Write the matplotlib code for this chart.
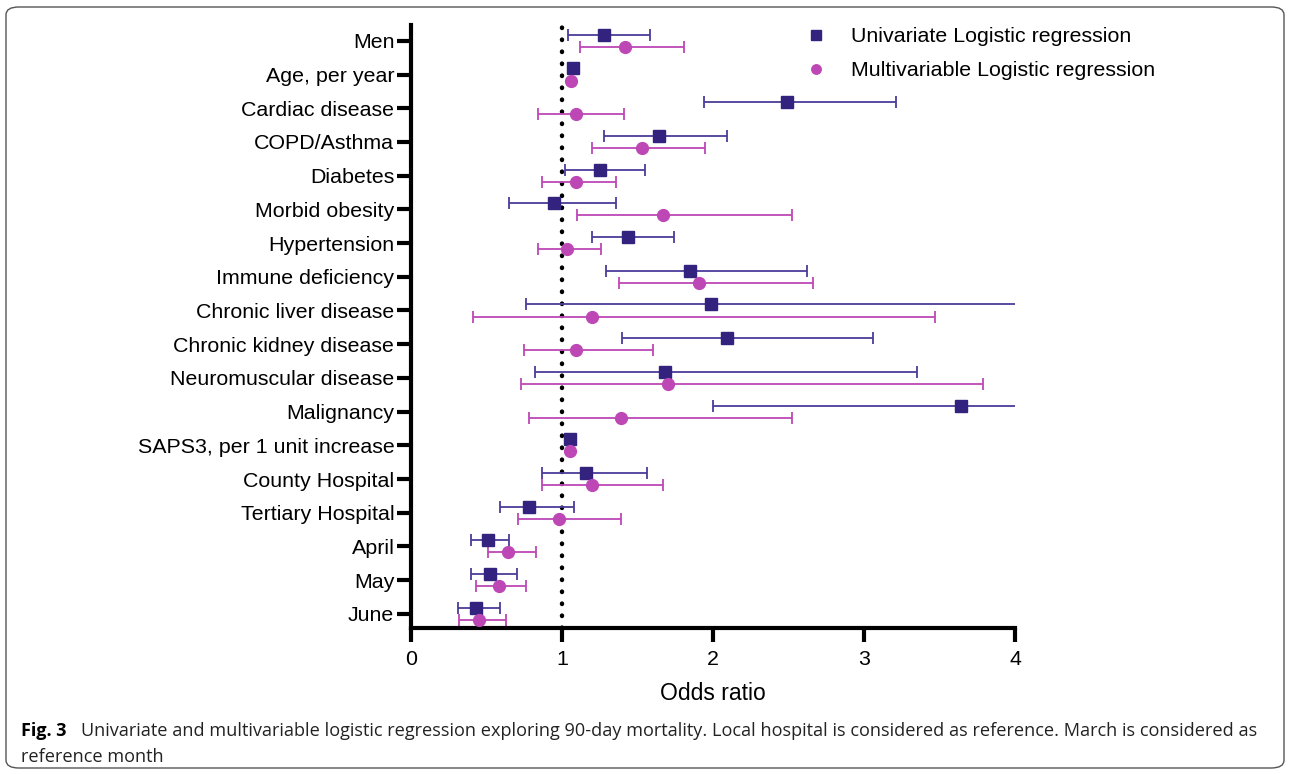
import matplotlib
matplotlib.use("Agg")
import matplotlib.pyplot as plt
from matplotlib.patches import FancyBboxPatch
import numpy as np

categories = ["Men", "Age, per year", "Cardiac disease", "COPD/Asthma", "Diabetes",
              "Morbid obesity", "Hypertension", "Immune deficiency", "Chronic liver disease",
              "Chronic kidney disease", "Neuromuscular disease", "Malignancy",
              "SAPS3, per 1 unit increase", "County Hospital", "Tertiary Hospital",
              "April", "May", "June"]

uni_or = [1.28, 1.07, 2.49, 1.64, 1.25, 0.95, 1.44, 1.85, 1.99, 2.09, 1.68, 3.64, 1.05, 1.16, 0.78, 0.51, 0.52, 0.43]
uni_lo = [1.04, 1.07, 1.94, 1.28, 1.02, 0.65, 1.20, 1.29, 0.76, 1.40, 0.82, 2.00, 1.05, 0.87, 0.59, 0.40, 0.40, 0.31]
uni_hi = [1.58, 1.07, 3.21, 2.09, 1.55, 1.36, 1.74, 2.62, 4.60, 3.06, 3.35, 4.60, 1.05, 1.56, 1.08, 0.65, 0.70, 0.59]

mul_or = [1.42, 1.06, 1.09, 1.53, 1.09, 1.67, 1.03, 1.91, 1.20, 1.09, 1.70, 1.39, 1.05, 1.20, 0.98, 0.64, 0.58, 0.45]
mul_lo = [1.12, 1.06, 0.84, 1.20, 0.87, 1.10, 0.84, 1.38, 0.41, 0.75, 0.73, 0.78, 1.05, 0.87, 0.71, 0.51, 0.43, 0.32]
mul_hi = [1.81, 1.06, 1.41, 1.95, 1.36, 2.52, 1.26, 2.66, 3.47, 1.60, 3.79, 2.52, 1.05, 1.67, 1.39, 0.83, 0.76, 0.63]

uni_label = "Univariate Logistic regression"
mul_label = "Multivariable Logistic regression"
x_label = "Odds ratio"
x_ticks = [0, 1, 2, 3, 4]

c_uni = "#33237f"
c_uni_err = "#4b3c98"
c_mul = "#bd48b5"

plt.rcParams['font.family'] = ['Liberation Sans', 'DejaVu Sans']

fig = plt.figure(figsize=(12.9, 7.74), dpi=100)
ax = fig.add_axes([411/1290, 1 - 628/774, (1015 - 411)/1290, (628 - 25)/774])

y = np.arange(len(categories))
off = 0.18
uo, ul, uh = map(np.array, (uni_or, uni_lo, uni_hi))
mo, ml, mh = map(np.array, (mul_or, mul_lo, mul_hi))

ax.axvline(1, color="black", lw=3.2, linestyle=(0, (0.1, 2.6)), dash_capstyle="round", zorder=1)

ax.errorbar(uo, y - off, xerr=[uo - ul, uh - uo], fmt="none", ecolor=c_uni_err,
            elinewidth=1.3, capsize=4.5, capthick=1.3, zorder=2)
ax.errorbar(mo, y + off, xerr=[mo - ml, mh - mo], fmt="none", ecolor=c_mul,
            elinewidth=1.3, capsize=4.5, capthick=1.3, zorder=2)
ax.plot(uo, y - off, "s", color=c_uni, ms=8.5, ls="none", zorder=3, label=uni_label)
ax.plot(mo, y + off, "o", color=c_mul, ms=8.5, ls="none", zorder=3, label=mul_label)

ax.set_xlim(0, 4)
ax.set_ylim(17.42, -0.47)
ax.set_yticks(y)
ax.set_yticklabels(categories, fontsize=15.4)
ax.set_xticks(x_ticks)
ax.set_xticklabels([str(t) for t in x_ticks], fontsize=15.4)
ax.set_xlabel(x_label, fontsize=16.5, labelpad=9)

for s in ("top", "right"):
    ax.spines[s].set_visible(False)
for s in ("left", "bottom"):
    ax.spines[s].set_linewidth(3)
ax.tick_params(axis="both", width=3, length=10, direction="out")
ax.tick_params(axis="x", pad=6)
ax.tick_params(axis="y", pad=2)

leg = ax.legend(loc="upper left", bbox_to_anchor=(0.6035, 1.028), frameon=False, fontsize=15.4,
                handletextpad=0.62, labelspacing=0.69, markerscale=0.8)

# caption
cap_font = ["Open Sans", "DejaVu Sans"]
fig.text(21/1290, 1 - 731/774, "Fig. 3", fontsize=13, fontweight="bold",
         family=cap_font, va="center", ha="left")
fig.text(81/1290, 1 - 731/774,
         "Univariate and multivariable logistic regression exploring 90-day mortality. Local hospital is considered as reference. March is considered as",
         fontsize=13.1, family=cap_font, va="center", ha="left", color="#222222")
fig.text(21/1290, 1 - 757/774, "reference month", fontsize=13.1,
         family=cap_font, va="center", ha="left", color="#222222")

border = FancyBboxPatch((6/1290, 6/774), 1278/1290, 761/774,
                        boxstyle="round,pad=0,rounding_size=0.01",
                        transform=fig.transFigure, fill=False, edgecolor="#555555", lw=1.0)
fig.patches.append(border)

fig.savefig("out.png", dpi=100)
